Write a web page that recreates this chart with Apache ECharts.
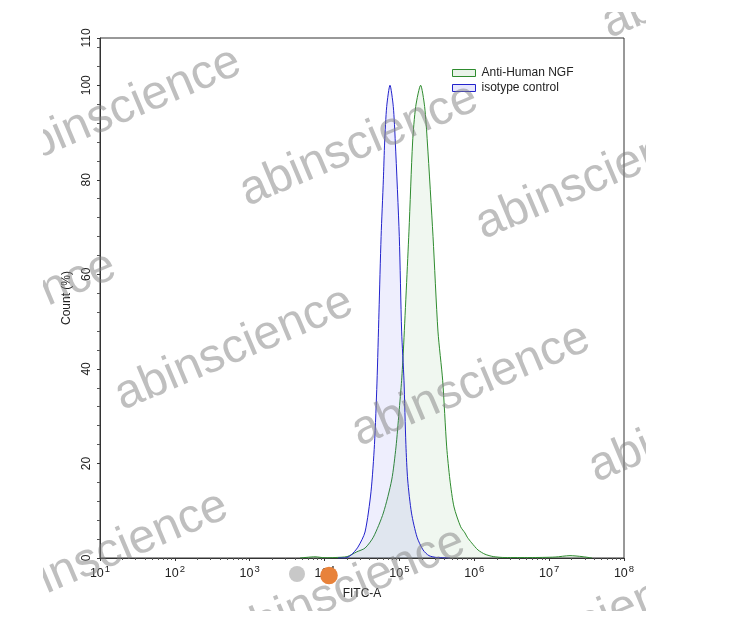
<!DOCTYPE html>
<html><head><meta charset="utf-8">
<script src="https://cdn.jsdelivr.net/npm/echarts@6/dist/echarts.min.js"></script>
<style>html,body{margin:0;padding:0;background:#fff}#c{width:756px;height:618px}</style>
</head><body><div id="c"></div>
<script>
// ---- data (FITC-A intensity, Count %) ----
const seriesNames = ['Anti-Human NGF', 'isotype control'];
const isoFITC  = [1.51e4, 1.87e4, 2.25e4, 2.79e4, 3.47e4, 4.17e4, 4.64e4, 5.01e4, 5.33e4, 5.69e4, 6.10e4, 6.35e4, 6.76e4, 7.48e4, 8.28e4, 8.81e4, 9.96e4, 1.07e5, 1.15e5, 1.22e5, 1.29e5, 1.45e5, 1.72e5, 2.07e5, 2.48e5, 3.18e5, 4.73e5];
const isoCount = [0,      0,      0.6,    2.3,    5.5,    14,     24,     37,     52,     68,     80,     88,     95.5,   100,    95.5,   88,     68,     48,     37.6,   24,     16.5,   9.5,    4.4,    1.7,    0.5,    0.1,    0];
const ngfFITC  = [4.70e3, 7.45e3, 1.01e4, 1.38e4, 2.0e4, 2.69e4, 3.47e4, 4.48e4, 6.09e4, 7.88e4, 9.0e4, 9.86e4, 1.07e5, 1.13e5, 1.34e5, 1.50e5, 1.65e5, 1.92e5, 2.17e5, 2.36e5, 2.81e5, 3.27e5, 3.78e5, 4.28e5, 4.73e5, 5.36e5, 6.58e5, 7.51e5, 8.06e5, 9.23e5, 1.12e6, 1.39e6, 1.79e6, 2.57e6, 5.55e6, 1.20e7, 1.90e7, 2.75e7, 3.73e7];
const ngfCount = [0,      0.25,   0.05,   0.1,    0.3,   1.3,    2.1,    4.4,    9.5,    16.5,   23.5,  30.7,   37.6,   44,     69,     88,     95.5,   100,    95.5,   88,     68,     48,     37.6,   23.5,   16.5,   10.8,   6.6,    5.3,    4.4,    3.2,    1.7,    0.8,    0.3,    0.1,    0.1,    0.2,    0.5,    0.3,    0];
const xTickExponents = [1, 2, 3, 4, 5, 6, 7, 8];
const yTicks = [0, 20, 40, 60, 80, 100, 110];

const pairs = (xs, ys) => xs.map((x, i) => [x, ys[i]]);

const wmFont = '48px "Liberation Sans", Arial, sans-serif';
const wmCenters = [[122,109],[359,145],[595,178],[-3,313],[234,349],[471,385],[708,421],[721,-23],[109,553],[346,589],[590,623]];
const wm = wmCenters.map(c => ({
  type: 'text', x: c[0], y: c[1], rotation: 22.8 * Math.PI / 180, z: 50,
  style: { text: 'abinscience', font: wmFont, fill: 'rgba(128,128,128,0.5)', align: 'center', verticalAlign: 'middle' }
}));
const masks = [
  [0, 0, 43, 618], [646, 0, 110, 618], [0, 0, 756, 12], [0, 611, 756, 7]
].map(r => ({ type: 'rect', shape: { x: r[0], y: r[1], width: r[2], height: r[3] }, style: { fill: '#fff' }, z: 60 }));
const dots = [
  { type: 'circle', shape: { cx: 297, cy: 574, r: 8 }, style: { fill: '#c8c8c8' }, z: 70 },
  { type: 'circle', shape: { cx: 329, cy: 575.5, r: 8.8 }, style: { fill: '#e8823a' }, z: 70 }
];

const chart = echarts.init(document.getElementById('c'), null, { renderer: 'canvas' });
chart.setOption({
  animation: false,
  backgroundColor: '#fff',
  textStyle: { fontFamily: '"Liberation Sans", Arial, sans-serif' },
  grid: { left: 100, right: 132, top: 38, bottom: 60, show: true, borderColor: '#333', borderWidth: 1, backgroundColor: 'transparent' },
  legend: {
    orient: 'vertical', left: 452, top: 67, padding: 0, itemWidth: 23, itemHeight: 7, itemGap: 3,
    textStyle: { fontSize: 12, color: '#222', padding: [0, 0, 0, 1] },
    data: [
      { name: seriesNames[0], icon: 'rect', itemStyle: { color: 'rgba(40,140,40,0.1)', borderColor: '#2e8b2e', borderWidth: 1 } },
      { name: seriesNames[1], icon: 'rect', itemStyle: { color: 'rgba(60,60,230,0.12)', borderColor: '#2222cc', borderWidth: 1 } }
    ]
  },
  xAxis: {
    type: 'log', logBase: 10, min: Math.pow(10, xTickExponents[0]), max: Math.pow(10, xTickExponents[xTickExponents.length - 1]),
    name: 'FITC-A', nameLocation: 'middle', nameGap: 30, nameTextStyle: { fontSize: 12, color: '#222' },
    axisLine: { lineStyle: { color: '#333' } },
    axisTick: { show: true, length: 3, lineStyle: { color: '#333' } },
    minorTick: { show: true, splitNumber: 9, length: 2, lineStyle: { color: '#555' } },
    splitLine: { show: false },
    axisLabel: {
      margin: 6,
      formatter: v => '{b|10}{s|' + Math.round(Math.log10(v)) + '}',
      rich: {
        b: { fontSize: 12.5, color: '#222', lineHeight: 16, verticalAlign: 'bottom' },
        s: { fontSize: 9.5, color: '#222', lineHeight: 16, verticalAlign: 'top', padding: [0, 0, 0, 1] }
      }
    }
  },
  yAxis: {
    type: 'value', min: yTicks[0], max: yTicks[yTicks.length - 1], interval: 20,
    name: 'Count (%)', nameLocation: 'middle', nameGap: 26, nameTextStyle: { fontSize: 12, color: '#222' },
    axisLine: { show: true, lineStyle: { color: '#333' } },
    axisTick: { show: true, length: 3, lineStyle: { color: '#333' } },
    minorTick: { show: true, splitNumber: 5, length: 3, lineStyle: { color: '#555' } },
    splitLine: { show: false },
    axisLabel: { rotate: 90, margin: 7, fontSize: 12, color: '#222' }
  },
  series: [
    {
      name: seriesNames[0], type: 'line', data: pairs(ngfFITC, ngfCount), smooth: 0.25, symbol: 'none',
      lineStyle: { color: '#2e8b2e', width: 1 }, itemStyle: { color: '#2e8b2e' },
      areaStyle: { color: 'rgba(40,140,40,0.1)' }, z: 2
    },
    {
      name: seriesNames[1], type: 'line', data: pairs(isoFITC, isoCount), smooth: 0.25, symbol: 'none',
      lineStyle: { color: '#2222cc', width: 1 }, itemStyle: { color: '#2222cc' },
      areaStyle: { color: 'rgba(60,60,230,0.12)' }, z: 3
    }
  ],
  graphic: { elements: wm.concat(masks).concat(dots) }
});
</script></body></html>
